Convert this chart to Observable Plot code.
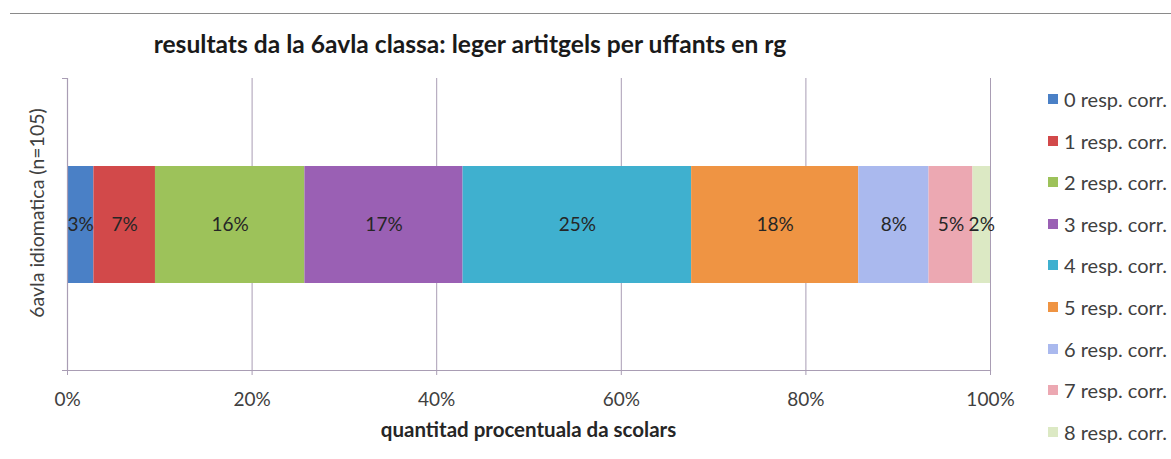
<!DOCTYPE html>
<html>
<head>
<meta charset="utf-8">
<script src="https://cdn.jsdelivr.net/npm/d3@7"></script>
<script src="https://cdn.jsdelivr.net/npm/@observablehq/plot@0.6"></script>
<style>
  html, body { margin: 0; padding: 0; background: #fff; }
  #wrap { position: relative; width: 1171px; height: 459px; font-family: Lato, "Open Sans", sans-serif; color: #404040; overflow: hidden; }
  #topline { position: absolute; left: 10px; right: 0; top: 13px; height: 0; border-top: 1.5px solid #8a8a8a; }
  #title { position: absolute; left: 0; width: 940px; top: 29px; text-align: center; font-weight: bold; font-size: 24.6px; line-height: 30px; color: #1a1a1a; }
  #xtitle { position: absolute; left: 67px; width: 923px; top: 416px; text-align: center; font-weight: bold; font-size: 20.5px; line-height: 26px; color: #262626; }
  #legend { position: absolute; left: 1048px; top: 87px; }
  .li { height: 41.6px; display: flex; align-items: flex-start; font-size: 20px; color: #404040; line-height: 24px; white-space: nowrap; }
  .sw { width: 10px; height: 10px; margin-right: 6px; margin-top: 7px; flex: none; }
  .tk { position: absolute; left: 62px; width: 5px; height: 0; border-top: 1.2px solid #a99db4; }
  #chart { position: absolute; left: 0; top: 0; }
</style>
</head>
<body>
<div id="wrap">
  <div id="topline"></div>
  <div id="chart"></div>
  <div class="tk" style="top:78px"></div>
  <div class="tk" style="top:370px"></div>
  <div id="title"></div>
  <div id="xtitle"></div>
  <div id="legend"></div>
</div>
<script>
const titleText = "resultats da la 6avla classa: leger artitgels per uffants en rg";
const xTitle = "quantitad procentuala da scolars";
const groupName = "6avla idiomatica (n=105)";
const categories = ["0 resp. corr.", "1 resp. corr.", "2 resp. corr.", "3 resp. corr.", "4 resp. corr.", "5 resp. corr.", "6 resp. corr.", "7 resp. corr.", "8 resp. corr."];
const shares = [2.86, 6.67, 16.19, 17.14, 24.76, 18.10, 7.62, 4.76, 1.90];
const shareLabels = ["3%", "7%", "16%", "17%", "25%", "18%", "8%", "5%", "2%"];
const colors = ["#4a80c6", "#d2494a", "#9dc25a", "#9a60b4", "#3fb0cf", "#ef9443", "#aab9ee", "#eca8b2", "#dce9c4"];
const xTicks = [0, 20, 40, 60, 80, 100];

const rows = categories.map((c, i) => ({group: groupName, category: c, share: shares[i], label: shareLabels[i]}));

document.getElementById("title").textContent = titleText;
document.getElementById("xtitle").textContent = xTitle;
const legend = document.getElementById("legend");
categories.forEach((c, i) => {
  const d = document.createElement("div");
  d.className = "li";
  d.innerHTML = `<span class="sw" style="background:${colors[i]}"></span><span></span>`;
  d.lastChild.textContent = c;
  legend.appendChild(d);
});

const gridColor = "#a99db4";
const chart = Plot.plot({
  width: 1171,
  height: 459,
  marginLeft: 67,
  marginRight: 181,
  marginTop: 78,
  marginBottom: 89,
  style: {fontFamily: "Lato, 'Open Sans', sans-serif", background: "transparent", overflow: "visible"},
  x: {domain: [0, 100]},
  y: {domain: [groupName], padding: 0.4275},
  color: {domain: categories, range: colors},
  marks: [
    Plot.ruleX(xTicks.filter(t => t > 0), {stroke: gridColor, strokeWidth: 1}),
    Plot.barX(rows, Plot.stackX({y: "group", x: "share", fill: "category", order: null})),
    Plot.text(rows, Plot.stackX({y: "group", x: "share", text: "label", order: null, fontSize: 19, fill: "#262626"})),
    Plot.ruleX([0], {stroke: gridColor, strokeWidth: 1.2}),
    Plot.axisX({ticks: xTicks, tickFormat: d => d + "%", tickSize: 5, tickPadding: 17, fontSize: 19, color: "#404040", stroke: gridColor, label: null}),
    Plot.axisY({ticks: [], label: null}),
    Plot.frame({anchor: "bottom", stroke: gridColor, strokeWidth: 1.2}),
    Plot.text([groupName], {y: d => d, text: d => d, frameAnchor: "left", textAnchor: "middle", rotate: -90, dx: -30, dy: -12, fontSize: 19.5, fill: "#404040"})
  ]
});
document.getElementById("chart").appendChild(chart);
</script>
</body>
</html>
